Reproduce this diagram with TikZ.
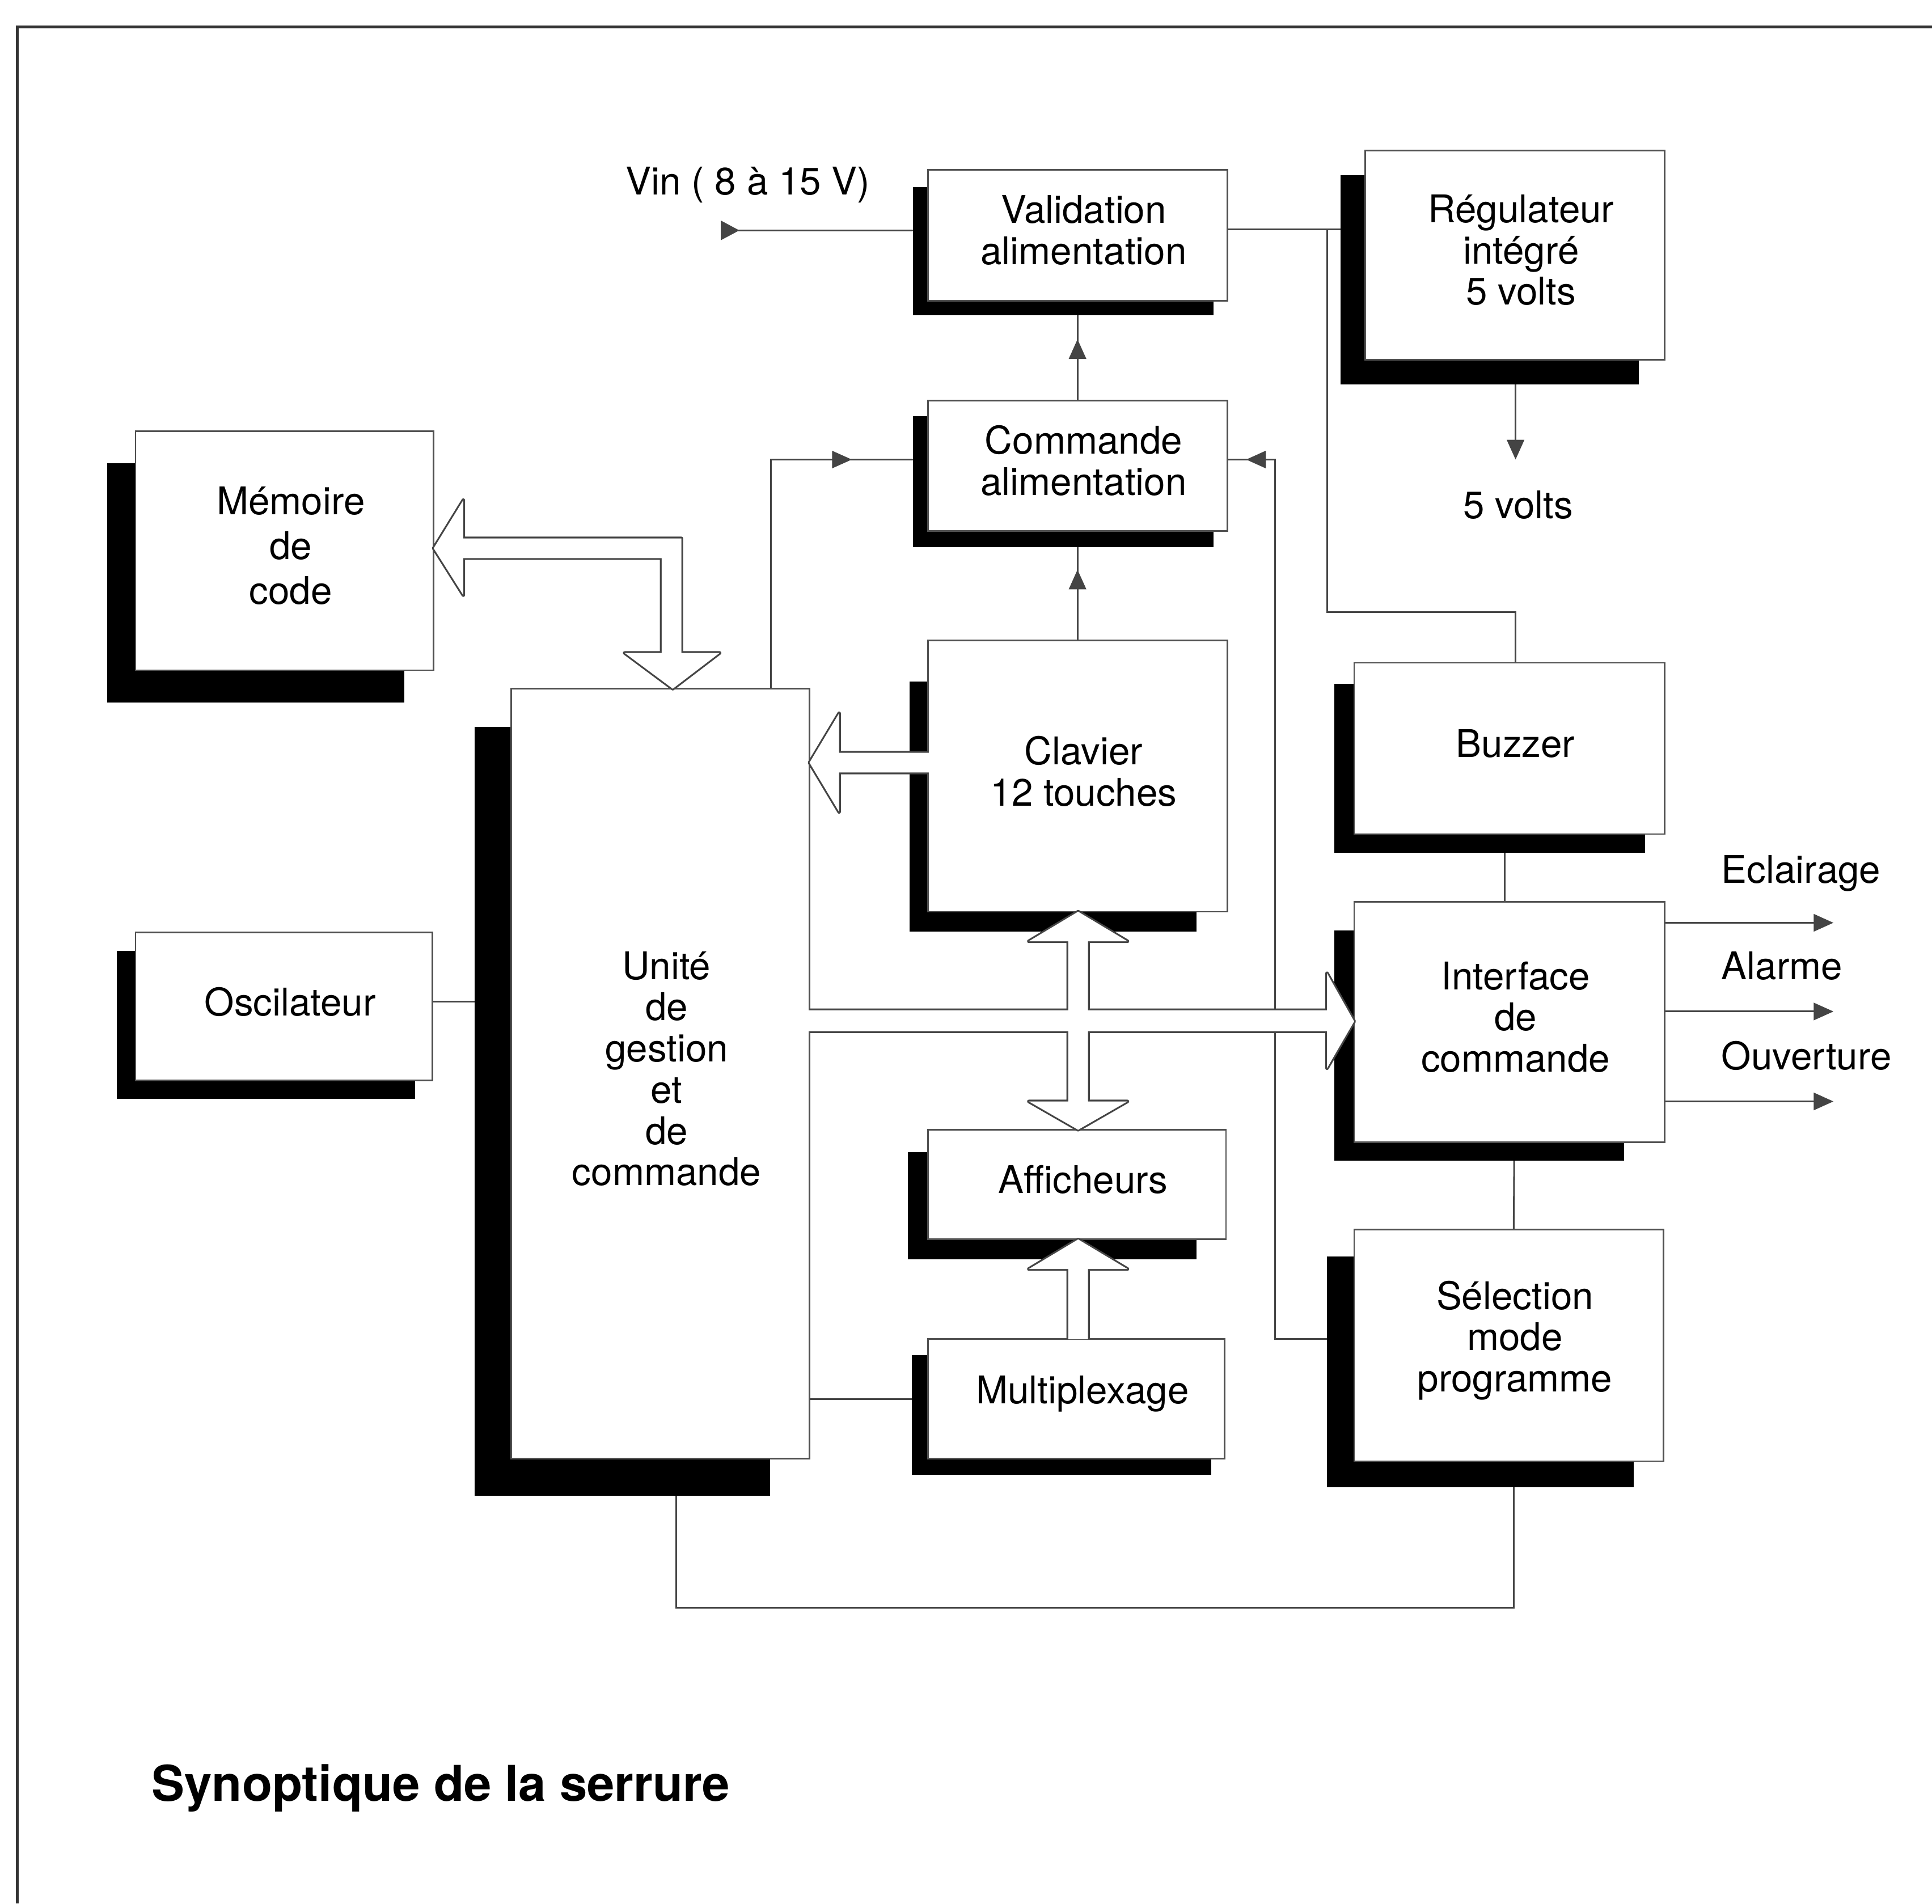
\documentclass[tikz,border=0pt]{standalone}
\usepackage{fontspec}
\setmainfont{TeX Gyre Heros}
\usetikzlibrary{arrows.meta,calc,decorations.markings}
\pgfdeclarelayer{bg}
\pgfdeclarelayer{fg}
\pgfsetlayers{bg,main,fg}
\definecolor{linec}{HTML}{444444}
\definecolor{boxc}{HTML}{505050}
\definecolor{framec}{HTML}{333333}
\newcommand\bx[6]{%
  \pgfmathsetmacro\bw{#4-#2}\pgfmathsetmacro\bh{#5-#3}%
  \node[box,minimum width=\bw pt,minimum height=\bh pt] (#1) at ({(#2+#4)/2},{(#3+#5)/2}) {};
  \node[boxtxt] (#1t) at ($(#1.center)+(5,-4)$) {#6};}
\newcommand\sh[4]{\fill[black] (#1,#2) rectangle (#3,#4);}
\begin{document}
\begin{tikzpicture}[x=1pt,y=-1pt,
  box/.style={draw=boxc, line width=1.3pt, fill=white, inner sep=0pt},
  boxtxt/.style={inner sep=0pt, align=center, font=\fontsize{31}{33.5}\selectfont},
  lbl/.style={inner sep=0pt, font=\fontsize{31}{33.5}\selectfont},
  con/.style={line width=1.4pt, color=linec},
  tip/.style={-{Triangle[length=16pt,width=14pt]}},
  midtip/.style={postaction={decorate},decoration={markings,
    mark=at position #1 with {\arrow{Triangle[length=16pt,width=14pt]}}}},
  holo/.style={draw=linec, line width=2.9pt, line join=round},
  holf/.style={fill=white}
]
\useasboundingbox (0,0) rectangle (1568,1545);
\begin{pgfonlayer}{bg}
\fill[white] (0,0) rectangle (1568,1545);
\end{pgfonlayer}

% frame
\draw[line width=2.4pt, color=framec] (14,1545) -- (14,22) -- (1568,22);

% boxes with shadows
\sh{741}{152}{985}{256}
\bx{val}{753}{138}{996}{244}{Validation\\alimentation}
\sh{1088}{142}{1330}{312}
\bx{reg}{1108}{122}{1351}{292}{R\'egulateur\\int\'egr\'e\\5 volts}
\sh{741}{338}{985}{444}
\bx{cmd}{753}{325}{996}{431}{Commande\\alimentation}
\sh{87}{376}{328}{570}
\bx{mem}{110}{350}{352}{544}{M\'emoire\\[3pt]de\\[3pt]code}
\sh{738}{553}{971}{756}
\bx{cla}{753}{520}{996}{740}{Clavier\\12 touches}
\sh{385}{590}{625}{1214}
\bx{uni}{415}{559}{657}{1184}{Unit\'e\\de\\gestion\\et\\de\\commande}
\sh{95}{772}{337}{892}
\bx{osc}{110}{757}{351}{877}{Oscilateur}
\sh{1083}{555}{1335}{692}
\bx{buz}{1099}{538}{1351}{677}{Buzzer}
\sh{1083}{755}{1318}{942}
\bx{int}{1099}{732}{1351}{927}{Interface\\de\\commande}
\sh{737}{935}{971}{1022}
\bx{aff}{753}{917}{995}{1006}{Afficheurs}
\sh{740}{1100}{983}{1197}
\bx{mux}{753}{1087}{994}{1184}{Multiplexage}
\sh{1077}{1020}{1326}{1207}
\bx{sel}{1099}{998}{1350}{1186}{S\'election\\mode\\programme}

% labels
\node[lbl] (vinl) at (607,150) {Vin ( 8 \`a 15 V)};
\node[lbl] (v5) at (1232,410) {5 volts};
\node[lbl, anchor=base west] (ecl) at (1397,717) {Eclairage};
\node[lbl, anchor=base west] (ala) at (1397,795) {Alarme};
\node[lbl, anchor=base west] (ouv) at (1397,868) {Ouverture};
\node[inner sep=0pt, anchor=base west, font=\bfseries\fontsize{40}{44}\selectfont] (cap) at (123,1462) {Synoptique de la serrure};

% connectors
\begin{pgfonlayer}{bg}
\coordinate (vin) at (585,187);
\draw[con] (vin) -- (val.west |- vin);
\fill[linec] (vin) ++(0,-8) -- ++(15,8) -- ++(-15,8) -- cycle;
\coordinate (j1) at (1077,186);
\coordinate (j2) at (1230,497);
\draw[con] (val.east |- j1) -- (reg.west |- j1);
\draw[con] (j1) |- (j2) -- (j2 |- buz.north);
\coordinate (r5) at (1230,373);
\draw[con,tip] (r5 |- reg.south) -- (r5);
\draw[con,midtip=49pt] (cmd.north) -- (val.south);
\draw[con,midtip=57pt] (cla.north) -- (cmd.south);
\draw[con,midtip=251pt] ([xshift=-32pt]uni.north east) |- ([yshift=5pt]cmd.west);
\coordinate (c1) at (1035,1087);
\draw[con,midtip=801pt] (sel.west |- c1) -- (c1) |- ([yshift=5pt]cmd.east);
\draw[con] ([yshift=4pt]osc.east) -- ([yshift=4pt]osc.east -| uni.west);
\draw[con] (mux.west) -- (mux.west -| uni.east);
\draw[con] ([xshift=-4pt]buz.south) -- ([xshift=-4pt]int.north);
\draw[con] ([xshift=4pt]int.south) -- ([xshift=4pt]sel.north);
\coordinate (o1) at (1488,749);
\coordinate (o2) at (1488,821);
\coordinate (o3) at (1488,894);
\draw[con,tip] (int.east |- o1) -- (o1);
\draw[con,tip] (int.east |- o2) -- (o2);
\draw[con,tip] (int.east |- o3) -- (o3);
\coordinate (jb) at (549,1305);
\draw[con] (jb |- uni.south) -- (jb) -| ([xshift=4pt]sel.south);
\end{pgfonlayer}

% hollow bus arrows
\begin{pgfonlayer}{fg}
\path[holo] (352,445) -- (376,406) -- (376,437) -- (553,437) -- (553,530) -- (584,530) -- (546,559) -- (507,530) -- (537,530) -- (537,453) -- (376,453) -- (376,483) -- cycle;
\path[holo] (753,611) -- (681,611) -- (681,579) -- (657,619) -- (681,659) -- (681,627) -- (753,627);
\path[holo] (657,820) -- (1077,820) -- (1077,790) -- (1099,829) -- (1077,867) -- (1077,837) -- (657,837);
\path[holo] (875,740) -- (915,764) -- (883,764) -- (883,894) -- (915,894) -- (875,917) -- (835,894) -- (867,894) -- (867,764) -- (835,764) -- cycle;
\path[holo] (867,1087) -- (867,1030) -- (835,1030) -- (875,1006) -- (915,1030) -- (883,1030) -- (883,1087);
\path[holf] (352,445) -- (376,406) -- (376,437) -- (553,437) -- (553,530) -- (584,530) -- (546,559) -- (507,530) -- (537,530) -- (537,453) -- (376,453) -- (376,483) -- cycle;
\path[holf] (754,611) -- (681,611) -- (681,579) -- (657,619) -- (681,659) -- (681,627) -- (754,627) -- cycle;
\path[holf] (655,820) -- (1077,820) -- (1077,790) -- (1099,829) -- (1077,867) -- (1077,837) -- (655,837) -- cycle;
\path[holf] (875,740) -- (915,764) -- (883,764) -- (883,894) -- (915,894) -- (875,917) -- (835,894) -- (867,894) -- (867,764) -- (835,764) -- cycle;
\path[holf] (867,1087) -- (867,1030) -- (835,1030) -- (875,1006) -- (915,1030) -- (883,1030) -- (883,1087) -- cycle;
\end{pgfonlayer}
\end{tikzpicture}
\end{document}
